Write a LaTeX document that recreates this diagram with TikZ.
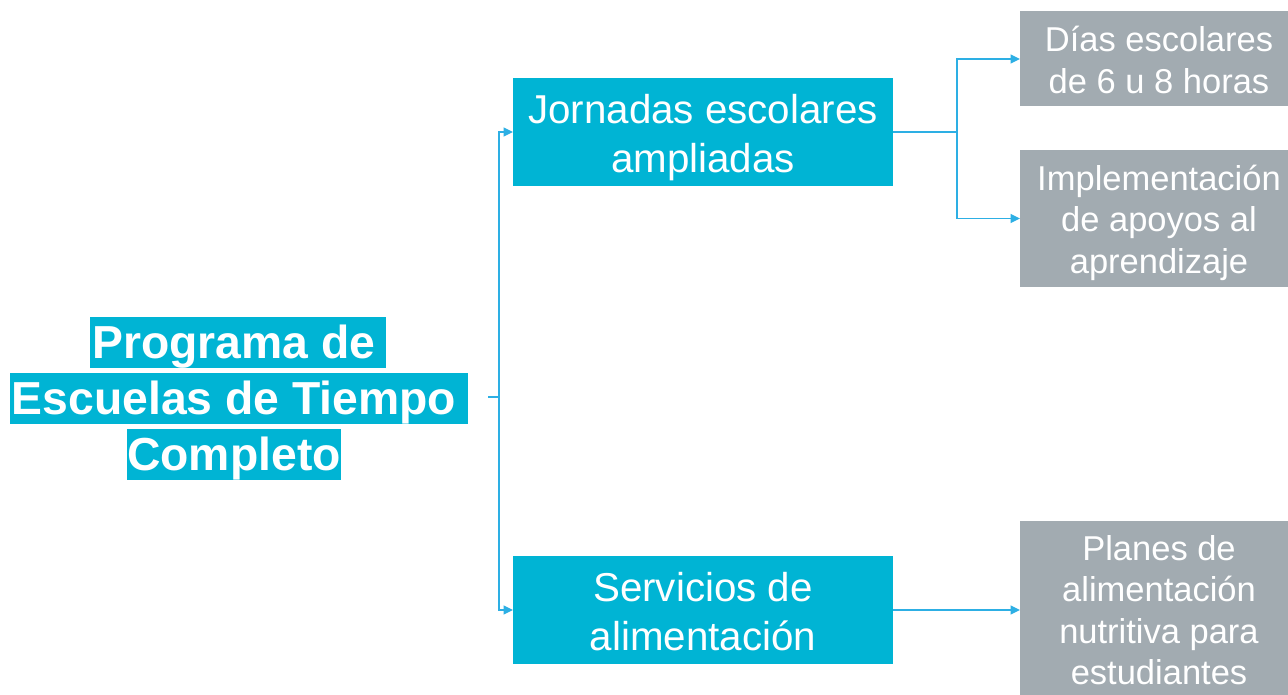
\documentclass[tikz,border=0pt]{standalone}
\usepackage{fontspec}
\setmainfont{Liberation Sans}
\usetikzlibrary{arrows.meta}
\definecolor{cyanbox}{RGB}{0,180,212}
\definecolor{graybox}{RGB}{162,171,177}
\definecolor{linec}{RGB}{45,175,228}
\newcommand{\topstrut}{\rule{0pt}{0.98em}}
\newcommand{\botstrut}{\rule[-0.2em]{0pt}{0pt}}
\newcommand{\padbox}[1]{\rule{#1}{0pt}}
\begin{document}
\begin{tikzpicture}[x=1pt,y=-1pt,
  rootline/.style={fill=cyanbox,text=white,inner sep=0pt,outer sep=0pt,
    font=\bfseries\fontsize{46.3}{56}\selectfont,text height=41.6pt,text depth=9.8pt},
  mainbox/.style={fill=cyanbox,text=white,inner sep=0pt,outer sep=0pt,
    minimum width=380pt,minimum height=108pt,align=center,
    font=\fontsize{40.3}{49}\selectfont},
  subbox/.style={fill=graybox,text=white,inner sep=0pt,outer sep=0pt,
    minimum width=278pt,align=center,
    font=\fontsize{34.5}{41.2}\selectfont},
  conn/.style={draw=linec,line width=1.4pt},
  arr/.style={conn,-{Triangle[length=9.5pt,width=9pt]}}
]
\useasboundingbox (0,0) rectangle (1288,695);
\clip (0,0) rectangle (1288,695);
\fill[white] (0,0) rectangle (1288,695);

% root
\node[rootline] (r1) at (238,342.5) {\padbox{2pt}Programa de\padbox{10pt}};
\node[rootline] (r2) at (239,398.5) {\padbox{2pt}Escuelas de Tiempo\padbox{12pt}};
\node[rootline] (r3) at (234,454.5) {Completo};

% level 1
\node[mainbox] (j) at (703,132) {\topstrut Jornadas escolares\\ampliadas\botstrut};
\node[mainbox] (s) at (703,610) {\topstrut Servicios de\\alimentación\botstrut};

% level 2
\node[subbox,minimum height=95pt] (d) at (1159,59) {\topstrut Días escolares\\de 6 u 8 horas\botstrut};
\node[subbox,minimum height=137pt] (i) at (1159,218.5) {\topstrut Implementación\\de apoyos al\\aprendizaje\botstrut};
\node[subbox,minimum height=176pt] (p) at (1159,609) {\topstrut Planes de\\alimentación\\nutritiva para\\estudiantes\botstrut};

% connectors
\coordinate (ro) at (488,397);
\coordinate (rs) at (499,397);
\draw[conn] (ro) -- (rs);
\draw[arr] (rs) |- (j.west);
\draw[arr] (rs) |- (s.west);

\coordinate (js) at (957,132);
\draw[conn] (j.east) -- (js);
\draw[arr] (js) |- (d.west);
\draw[arr] (js) |- (i.west);

\draw[arr] (s.east) -- (s.east -| p.west);
\end{tikzpicture}
\end{document}
